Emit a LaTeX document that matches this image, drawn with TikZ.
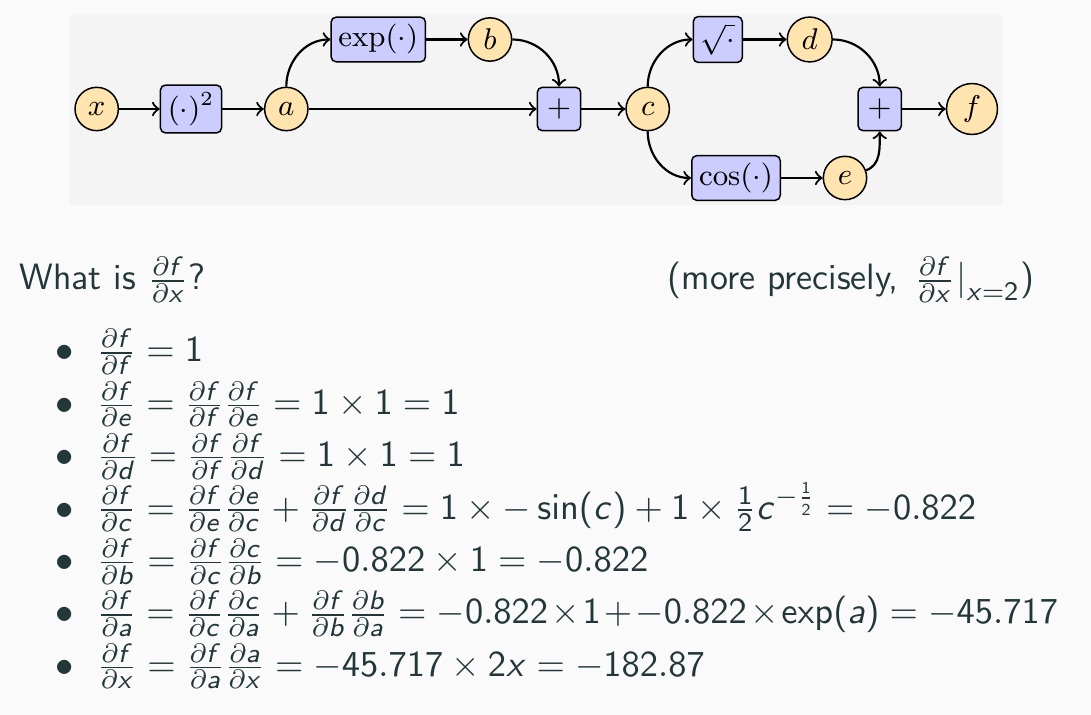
\documentclass[tikz,border=0pt]{standalone}
\usetikzlibrary{positioning}
\definecolor{slidebg}{HTML}{FAFAFA}
\definecolor{graphbg}{HTML}{F4F4F4}
\definecolor{varfill}{HTML}{FFE4B0}
\definecolor{opfill}{HTML}{CCCCFF}
\definecolor{slidetext}{HTML}{23373B}
% sans serif maths for the slide text, serif maths in the graph
\DeclareMathVersion{sans}
\SetSymbolFont{operators}{sans}{OT1}{cmss}{m}{n}
\DeclareSymbolFont{sfletters}{OML}{cmm}{m}{it}
\SetSymbolFont{sfletters}{sans}{OT1}{cmss}{m}{sl}
\DeclareMathSymbol{a}{\mathalpha}{sfletters}{`a}
\DeclareMathSymbol{b}{\mathalpha}{sfletters}{`b}
\DeclareMathSymbol{c}{\mathalpha}{sfletters}{`c}
\DeclareMathSymbol{d}{\mathalpha}{sfletters}{`d}
\DeclareMathSymbol{e}{\mathalpha}{sfletters}{`e}
\DeclareMathSymbol{f}{\mathalpha}{sfletters}{`f}
\DeclareMathSymbol{x}{\mathalpha}{sfletters}{`x}
\newcommand{\pd}[2]{\frac{\partial #1}{\partial #2}}
\newcommand{\tightop}[1]{\mskip1.5mu{#1}\mskip1.5mu}
\begin{document}
\begin{tikzpicture}[x=0.3pt, y=0.3pt,
  varnode/.style={circle, draw, line width=0.45pt, fill=varfill, inner sep=2pt, minimum size=13pt, font=\fontsize{9}{11}\selectfont},
  opnode/.style={rectangle, rounded corners=1.5pt, draw, line width=0.45pt, fill=opfill, inner sep=2.2pt, minimum size=13pt, font=\fontsize{9}{11}\selectfont},
  flow/.style={->, line width=0.65pt},
  slide/.style={inner sep=0pt, text=slidetext, font=\fontsize{11}{13.6}\selectfont\sffamily\mathversion{sans}}]
\useasboundingbox (0,0) rectangle (1091,715);
\fill[slidebg] (0,0) rectangle (1091,715);
\fill[graphbg] (70,510) rectangle (1002,701);
% graph
\node[varnode] (vx) at (96.7,606) {$x$};
\node[opnode] (fsq) at (191,606) {$(\cdot)^2$};
\node[varnode] (va) at (286.3,606) {$a$};
\node[opnode] (fexp) at (378.3,675.5) {$\exp(\cdot)$};
\node[varnode] (vb) at (490,675.5) {$b$};
\node[opnode] (add1) at (559,606) {$+$};
\node[varnode] (vc) at (647.7,606) {$c$};
\node[opnode] (fsqrt) at (717.8,675.5) {$\sqrt{\cdot}$};
\node[varnode] (vd) at (809.7,675.5) {$d$};
\node[opnode] (fcos) at (736,537) {$\cos(\cdot)$};
\node[varnode] (ve) at (845,537) {$e$};
\node[opnode] (add2) at (879.7,606) {$+$};
\node[varnode] (vf) at (972,606) {$f$};
\draw[flow] (vx) -- (fsq);
\draw[flow] (fsq) -- (va);
\draw[flow] (va) to[out=90,in=180] (fexp);
\draw[flow] (fexp) -- (vb);
\draw[flow] (va) -- (add1);
\draw[flow] (vb) to[out=0,in=90] (add1);
\draw[flow] (add1) -- (vc);
\draw[flow] (vc) to[out=90,in=180] (fsqrt);
\draw[flow] (fsqrt) -- (vd);
\draw[flow] (vc) to[out=-90,in=180] (fcos);
\draw[flow] (fcos) -- (ve);
\draw[flow] (vd) to[out=0,in=90] (add2);
\draw[flow] (ve) to[out=20,in=-90] (add2);
\draw[flow] (add2) -- (vf);
% question
\node[slide, anchor=base west] (ask) at (19,425) {What is $\pd{f}{x}$?};
\node[slide, anchor=base west] (precise) at (667,425) {(more precisely, $\kern1.2pt\pd{f}{x}\kern0.6pt\bigr|_{x=2}$)};
% chain rule, one line per variable
\foreach \yb [count=\i] in {353,300.6,248.2,195.8,143.4,91,38.6}
  \node[slide, anchor=base] (dot\i) at (65,\yb) {$\bullet$};
\node[slide, anchor=base west] (step1) at (96.5,353) {$\pd{f}{f} = 1$};
\node[slide, anchor=base west] (step2) at (96.5,300.6) {$\pd{f}{e} = \pd{f}{f}\pd{f}{e} = 1 \times 1 = 1$};
\node[slide, anchor=base west] (step3) at (96.5,248.2) {$\pd{f}{d} = \pd{f}{f}\pd{f}{d} = 1 \times 1 = 1$};
\node[slide, anchor=base west] (step4) at (96.5,195.8) {$\pd{f}{c} = \pd{f}{e}\pd{e}{c} + \pd{f}{d}\pd{d}{c} = 1 \times -\sin(c) + 1 \times \frac{1}{2}c^{-\frac{1}{2}} = -0.822$};
\node[slide, anchor=base west] (step5) at (96.5,143.4) {$\pd{f}{b} = \pd{f}{c}\pd{c}{b} = -0.822 \times 1 = -0.822$};
\node[slide, anchor=base west] (step6) at (96.5,91) {$\pd{f}{a} = \pd{f}{c}\pd{c}{a} + \pd{f}{b}\pd{b}{a} = -0.822\tightop{\times}1\tightop{+}{-0.822}\tightop{\times}{\exp}(a) = -45.717$};
\node[slide, anchor=base west] (step7) at (96.5,38.6) {$\pd{f}{x} = \pd{f}{a}\pd{a}{x} = -45.717 \times 2x = -182.87$};
\end{tikzpicture}
\end{document}
